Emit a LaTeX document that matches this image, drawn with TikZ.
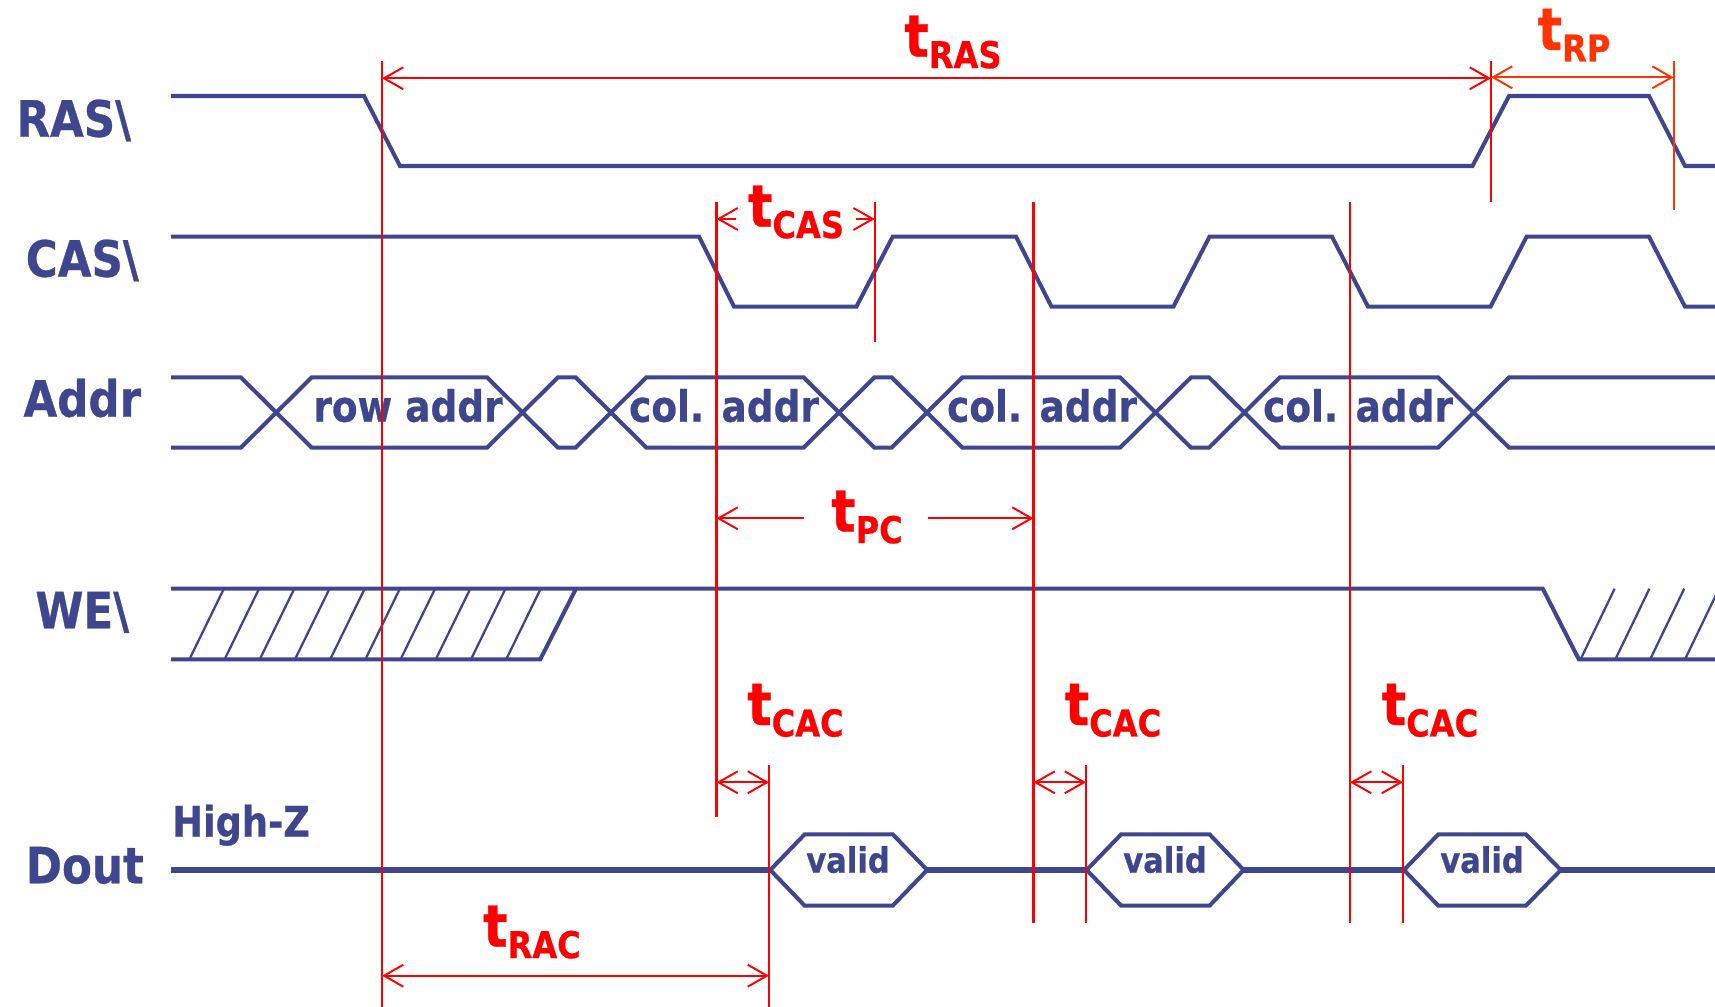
\documentclass[tikz,border=0pt]{standalone}
\usepackage{fontspec}
\usetikzlibrary{arrows.meta}
\newfontfamily\df{DejaVu Sans Bold}[FakeStretch=0.87,FakeBold=0.6]
\definecolor{sig}{RGB}{62,70,142}
\definecolor{tred}{RGB}{255,0,0}
\definecolor{torange}{RGB}{255,51,0}
\newcommand{\tlab}[1]{{\fontsize{33.4}{34}\selectfont t}\raisebox{-6.5pt}{\fontsize{21}{22}\selectfont #1}}
\begin{document}
\begin{tikzpicture}[x=0.02cm,y=-0.02cm,
  sigline/.style={draw=sig, line width=2.3pt},
  doutline/.style={draw=sig, line width=3.6pt},
  hatch/.style={draw=sig, line width=1.3pt},
  marker/.style={draw=tred, line width=1.25pt},
  dimarrow/.style={draw=tred, line width=1.1pt, {Straight Barb[length=11pt,width=12.5pt]}-{Straight Barb[length=11pt,width=12.5pt]}},
  halfarrow/.style={draw=tred, line width=1.1pt, -{Straight Barb[length=11pt,width=12.5pt]}},
  sname/.style={font=\df\fontsize{28.5}{30}\selectfont, text=sig, anchor=base, inner sep=0pt},
  boxtext/.style={font=\df\fontsize{24.5}{27}\selectfont, text=sig, anchor=base, inner sep=0pt},
  validtext/.style={font=\df\fontsize{20}{22}\selectfont, text=sig, anchor=base, inner sep=0pt},
  tname/.style={font=\df, text=tred, anchor=base, inner sep=0pt}
]
\useasboundingbox (0,0) rectangle (1715,1007);
\clip (0,0) rectangle (1715,1007);

% ---------- signal names ----------
\node[sname] (nras) at (73.8,136.7) {RAS\textbackslash};
\node[sname] (ncas) at (82.3,276.7) {CAS\textbackslash};
\node[sname] (naddr) at (82.3,416.7) {Addr};
\node[sname] (nwe) at (82.3,628.3) {WE\textbackslash};
\node[sname] (ndout) at (84.8,883.3) {Dout};
\node[font=\df\fontsize{24}{26}\selectfont, text=sig, anchor=base west, inner sep=0pt] (hiz) at (172,836.7) {High-Z};

% ---------- RAS ----------
\draw[sigline] (171,96) -- (364,96) -- (400,166) -- (1472.5,166) -- (1509,96) -- (1649,96) -- (1685,166) -- (1715,166);

% ---------- CAS ----------
\draw[sigline] (171,236.7) -- (699,236.7) -- (734,306.7) -- (856.4,306.7) -- (892.7,236.7) -- (1016,236.7)
  -- (1051.5,306.7) -- (1173.4,306.7) -- (1209.5,236.7) -- (1332,236.7) -- (1368,306.7) -- (1490.5,306.7)
  -- (1526.6,236.7) -- (1649,236.7) -- (1685,306.7) -- (1715,306.7);

% ---------- Addr ----------
\def\T{377.3}\def\B{447.7}
\draw[sigline] (171,\T) -- (240.8,\T) -- (311.8,\B) -- (487,\B) -- (558,\T) -- (575.5,\T) -- (646.5,\B)
  -- (803.5,\B) -- (874.5,\T) -- (891.5,\T) -- (962.5,\B) -- (1120.1,\B) -- (1191.1,\T) -- (1208.9,\T)
  -- (1279.9,\B) -- (1438.1,\B) -- (1509.1,\T) -- (1715,\T);
\draw[sigline] (171,\B) -- (240.8,\B) -- (311.8,\T) -- (487,\T) -- (558,\B) -- (575.5,\B) -- (646.5,\T)
  -- (803.5,\T) -- (874.5,\B) -- (891.5,\B) -- (962.5,\T) -- (1120.1,\T) -- (1191.1,\B) -- (1208.9,\B)
  -- (1279.9,\T) -- (1438.1,\T) -- (1509.1,\B) -- (1715,\B);
\node[boxtext] (rowa) at (408,421.7) {row addr};
\node[boxtext] (cola1) at (724,421.7) {col. addr};
\node[boxtext] (cola2) at (1042,421.7) {col. addr};
\node[boxtext] (cola3) at (1358,421.7) {col. addr};

% ---------- WE ----------
\draw[sigline] (171,588.7) -- (1542.8,588.7) -- (1578.8,659.3) -- (1715,659.3);
\draw[sigline] (171,659.3) -- (540.3,659.3) -- (576,588.7);
\foreach \k in {0,...,9} \draw[hatch] ({189.4+35.2*\k},659.3) -- ({223.9+35.2*\k},588.7);
\foreach \k in {0,...,3} \draw[hatch] ({1580.6+34.8*\k},659.3) -- ({1614.6+34.8*\k},588.7);

% ---------- Dout ----------
\draw[doutline] (171,870) -- (770.3,870);
\draw[doutline] (927.2,870) -- (1086.7,870);
\draw[doutline] (1243.7,870) -- (1404,870);
\draw[doutline] (1560.8,870) -- (1715,870);
\draw[sigline] (770.3,870) -- (804.7,834.3) -- (892.7,834.3) -- (927.2,870) -- (892.7,905.7) -- (804.7,905.7) -- cycle;
\draw[sigline] (1086.7,870) -- (1121.2,834.3) -- (1209.5,834.3) -- (1243.7,870) -- (1209.5,905.7) -- (1121.2,905.7) -- cycle;
\draw[sigline] (1404,870) -- (1438.3,834.3) -- (1525.9,834.3) -- (1560.8,870) -- (1525.9,905.7) -- (1438.3,905.7) -- cycle;
\node[validtext] (val1) at (848,872.7) {valid};
\node[validtext] (val2) at (1165,872.7) {valid};
\node[validtext] (val3) at (1482,872.7) {valid};

% ---------- timing markers ----------
\coordinate (v1t) at (382,61);     \coordinate (v1b) at (382,1007);
\coordinate (v2t) at (1491,61);    \coordinate (v2b) at (1491,202);
\coordinate (v3t) at (1673.6,61);  \coordinate (v3b) at (1673.6,210);
\coordinate (v4t) at (716.5,202);  \coordinate (v4b) at (716.5,817);
\coordinate (v5t) at (874.7,202);  \coordinate (v5b) at (874.7,341.7);
\coordinate (v6t) at (1033.5,202); \coordinate (v6b) at (1033.5,922.7);
\coordinate (v7t) at (1350,202);   \coordinate (v7b) at (1350,922.7);
\coordinate (v8t) at (769,765);    \coordinate (v8b) at (769,1007);
\coordinate (v9t) at (1086,765);   \coordinate (v9b) at (1086,922.7);
\coordinate (v10t) at (1403,765);  \coordinate (v10b) at (1403,922.7);
\foreach \v in {v1,v2,v4,v5,v6,v7,v8,v9,v10} \draw[marker] (\v t) -- (\v b);
\draw[marker, draw=torange] (v3t) -- (v3b);

% tRAS
\coordinate (ras1) at (382,78.3); \coordinate (ras2) at (1491,78.3);
\draw[dimarrow] (ras1) -- (ras2);
\node[tname] (ltras) at (953,56.7) {\tlab{RAS}};
% tRP
\coordinate (rp1) at (1491,77.3); \coordinate (rp2) at (1673.6,77.3);
\draw[dimarrow, draw=torange] (rp1) -- (rp2);
\node[tname, text=torange] (ltrp) at (1574,50) {\tlab{RP}};
% tCAS
\coordinate (cas1) at (716.5,219); \coordinate (cas1i) at (736,219);
\coordinate (cas2) at (874.7,219); \coordinate (cas2i) at (856,219);
\draw[halfarrow] (cas1i) -- (cas1);
\draw[halfarrow] (cas2i) -- (cas2);
\node[tname] (ltcas) at (796,226.7) {\tlab{CAS}};
% tPC
\coordinate (pc1) at (716.5,518.3); \coordinate (pc1i) at (804,518.3);
\coordinate (pc2) at (1033.5,518.3); \coordinate (pc2i) at (928.3,518.3);
\draw[halfarrow] (pc1i) -- (pc1);
\draw[halfarrow] (pc2i) -- (pc2);
\node[tname] (ltpc) at (867,531.7) {\tlab{PC}};
% tCAC
\coordinate (cac1a) at (716.5,782.3); \coordinate (cac1b) at (769,782.3);
\coordinate (cac2a) at (1033.5,782.3); \coordinate (cac2b) at (1086,782.3);
\coordinate (cac3a) at (1350,782.3); \coordinate (cac3b) at (1403,782.3);
\draw[dimarrow] (cac1a) -- (cac1b);
\draw[dimarrow] (cac2a) -- (cac2b);
\draw[dimarrow] (cac3a) -- (cac3b);
\node[tname] (ltcac1) at (795.5,725) {\tlab{CAC}};
\node[tname] (ltcac2) at (1113,725) {\tlab{CAC}};
\node[tname] (ltcac3) at (1430,725) {\tlab{CAC}};
% tRAC
\coordinate (rac1) at (382,975.7); \coordinate (rac2) at (769,975.7);
\draw[dimarrow] (rac1) -- (rac2);
\node[tname] (ltrac) at (532,946.7) {\tlab{RAC}};
\end{tikzpicture}
\end{document}
